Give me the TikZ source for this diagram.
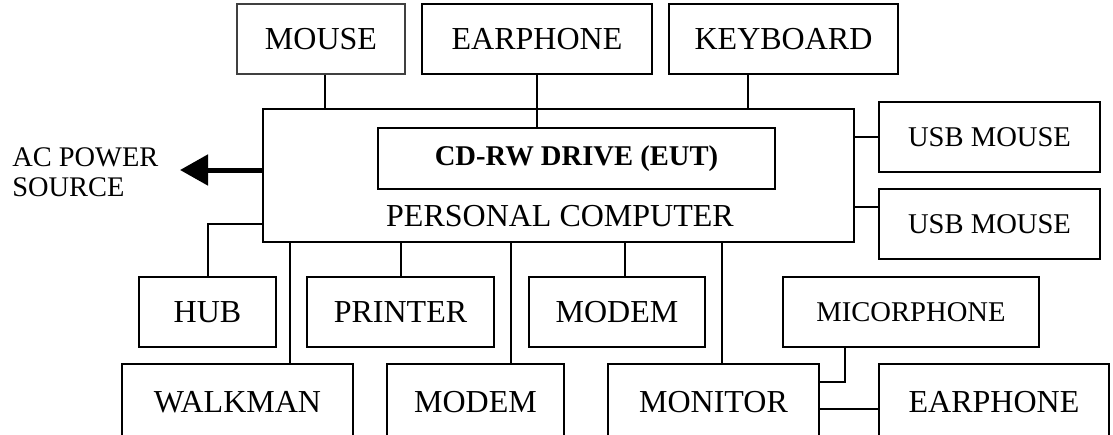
\documentclass[tikz,border=0pt]{standalone}
\usepackage{fontspec}
\setmainfont{Liberation Serif}
\usepackage{tikz}
\usetikzlibrary{arrows.meta,positioning,calc}

\begin{document}
\begin{tikzpicture}[
    x=0.5pt, y=-0.5pt,
    box/.style={draw=black, line width=1pt, inner sep=0pt, minimum height=35pt, align=center, font=\fontsize{16}{19}\selectfont},
    smallbox/.style={box, font=\fontsize{14.3}{17}\selectfont},
    lowbox/.style={box, minimum height=38pt},
    eutbox/.style={box, minimum height=30.5pt, font=\fontsize{14.3}{17}\selectfont\bfseries},
    wire/.style={line width=1pt},
    powerarrow/.style={-{Triangle[length=14pt,width=15pt]}, line width=2.5pt}
]
\useasboundingbox (0,0) rectangle (1113,434);
\clip (0,0) rectangle (1113,434);

% ===== PERSONAL COMPUTER =====
\node[box, minimum width=295.5pt, minimum height=66.5pt] (pc) at (558.5,175.5) {};
\node[eutbox, minimum width=198.5pt] (cd) at (576.5,158.5) {CD-RW DRIVE (EUT)};
\node[inner sep=0pt, font=\fontsize{16}{19}\selectfont] (pclabel) at (560,216) {PERSONAL COMPUTER};

% ===== TOP ROW =====
\node[box, draw=black!75, line width=0.6pt, minimum width=84pt] (mouse) at (321,39) {MOUSE};
\node[box, minimum width=115pt] (earA) at (537,39) {EARPHONE};
\node[box, minimum width=114.5pt] (kbd) at (783.5,39) {KEYBOARD};

\draw[wire] ([xshift=2pt]mouse.south) -- ([xshift=2pt]mouse.south |- pc.north);
\draw[wire] (earA.south) -- (earA.south |- cd.north);
\draw[wire] ([xshift=-18pt]kbd.south) -- ([xshift=-18pt]kbd.south |- pc.north);

% ===== RIGHT SIDE =====
\node[smallbox, minimum width=110.5pt] (usbA) at (989.5,137) {USB MOUSE};
\node[smallbox, minimum width=110.5pt] (usbB) at (989.5,224) {USB MOUSE};

\draw[wire] (pc.east |- usbA.west) -- (usbA.west);
\draw[wire] ([yshift=8.5pt]usbB.west) -- ([yshift=8.5pt]usbB.west -| pc.east);

% ===== AC POWER =====
\node[inner sep=0pt, anchor=west, align=left, font=\fontsize{14.2}{15}\selectfont] (ac) at (12,172) {AC POWER\\SOURCE};
\coordinate (actip) at (180,170);
\draw[powerarrow] (pc.west |- actip) -- (actip);

% ===== MIDDLE ROW =====
\node[box, minimum width=68.5pt] (hub) at (207.5,312) {HUB};
\node[box, minimum width=93.5pt] (prn) at (400.5,312) {PRINTER};
\node[box, minimum width=88pt] (modemA) at (617,312) {MODEM};
\node[smallbox, minimum width=128pt] (mic) at (911,312) {MICORPHONE};

\draw[wire] ([yshift=-24.25pt]pc.west) -| (hub.north);
\draw[wire] (prn.north) -- (prn.north |- pc.south);
\draw[wire] ([xshift=4pt]modemA.north) -- ([xshift=4pt]modemA.north |- pc.south);

% ===== BOTTOM ROW =====
\node[lowbox, minimum width=115.5pt] (walk) at (237.5,402) {WALKMAN};
\node[lowbox, minimum width=88.5pt] (modemB) at (475.5,402) {MODEM};
\node[lowbox, minimum width=105.5pt] (mon) at (713.5,402) {MONITOR};
\node[lowbox, minimum width=115pt] (earB) at (994,402) {EARPHONE};

\draw[wire] ([xshift=26.25pt]walk.north) -- ([xshift=26.25pt]walk.north |- pc.south);
\draw[wire] ([xshift=17.75pt]modemB.north) -- ([xshift=17.75pt]modemB.north |- pc.south);
\draw[wire] ([xshift=4.25pt]mon.north) -- ([xshift=4.25pt]mon.north |- pc.south);
\draw[wire] ([xshift=-33pt]mic.south) |- ([yshift=10pt]mon.east);
\draw[wire] ([yshift=-3.5pt]mon.east) -- ([yshift=-3.5pt]mon.east -| earB.west);

\end{tikzpicture}
\end{document}
